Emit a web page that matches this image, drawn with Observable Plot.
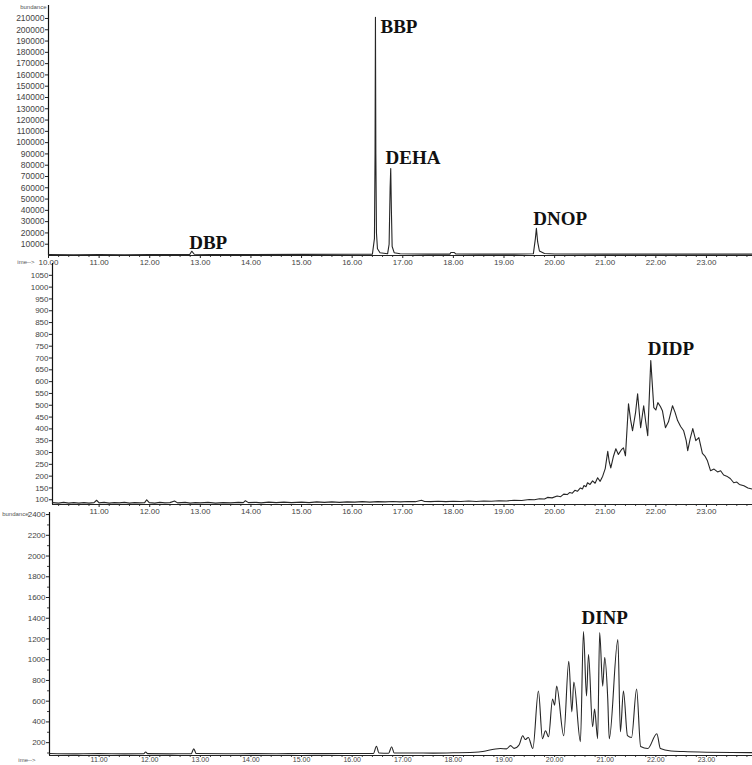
<!DOCTYPE html>
<html><head><meta charset="utf-8">
<script src="https://cdn.jsdelivr.net/npm/d3@7"></script>
<script src="https://cdn.jsdelivr.net/npm/@observablehq/plot@0.6"></script>
<style>
body{margin:0;background:#fff;}
#chart{position:relative;width:752px;height:765px;overflow:hidden;background:#fff;}
#chart svg{position:absolute;left:0;background:transparent;overflow:visible;}
</style></head><body><div id="chart"></div>
<script>
// ---- data: [retention time (min), abundance] ----
const ticTrace = [
  [10.0,800],[10.5,700],[11.0,800],[11.5,700],[12.0,800],[12.5,900],[12.79,900],[12.83,3800],[12.88,1100],
  [13.2,900],[14.0,900],[15.0,1000],[16.0,1100],[16.40,1200],[16.44,15000],[16.452,90000],[16.46,211000],
  [16.468,90000],[16.48,20000],[16.50,6000],[16.55,2500],[16.70,1500],[16.73,10000],[16.75,60000],
  [16.762,77000],[16.775,40000],[16.79,8000],[16.83,2500],[16.95,1500],[17.5,1200],[17.93,1200],[17.95,2600],
  [18.02,2600],[18.05,1300],[18.5,1200],[19.2,1200],[19.58,1500],[19.62,15000],[19.64,24000],[19.665,12000],
  [19.70,4000],[19.8,1800],[20.0,1300],[21.0,1200],[22.0,1200],[23.0,1200],[23.91,1200]
];
const didpTrace = [
  [10.08,88],[10.2,86],[10.3,89],[10.4,86],[10.5,88],[10.6,86],[10.7,88],[10.8,86],[10.9,88],[10.95,98],
  [11.0,87],[11.1,89],[11.2,86],[11.3,88],[11.4,87],[11.5,89],[11.6,86],[11.7,88],[11.8,87],[11.9,88],
  [11.94,100],[11.99,88],[12.1,86],[12.2,89],[12.3,87],[12.4,88],[12.49,95],[12.55,87],[12.7,89],
  [12.8,86],[12.9,88],[13.0,87],[13.15,89],[13.3,86],[13.45,88],[13.6,87],[13.75,89],[13.85,88],
  [13.89,96],[13.95,88],[14.1,89],[14.2,87],[14.35,90],[14.5,88],[14.65,90],[14.8,88],[15.0,90],
  [15.15,88],[15.3,91],[15.45,89],[15.6,91],[15.75,89],[15.9,91],[16.05,90],[16.2,92],[16.35,90],
  [16.5,92],[16.65,91],[16.8,93],[16.95,91],[17.1,93],[17.25,92],[17.37,98],[17.43,93],[17.55,92],
  [17.7,94],[17.85,92],[18.0,94],[18.15,93],[18.3,95],[18.45,93],[18.6,95],[18.75,94],[18.9,96],
  [19.05,95],[19.2,98],[19.35,97],[19.5,101],[19.6,100],[19.7,104],[19.8,103],[19.86,110],[19.95,108],
  [20.05,116],[20.12,113],[20.18,124],[20.25,122],[20.3,131],[20.35,128],[20.4,140],[20.45,136],
  [20.51,150],[20.55,146],[20.58,160],[20.62,155],[20.65,172],[20.70,165],[20.75,180],[20.80,170],
  [20.85,193],[20.90,178],[20.95,200],[21.0,232],[21.05,305],[21.08,260],[21.11,235],[21.16,282],
  [21.21,316],[21.26,292],[21.32,312],[21.36,320],[21.40,286],[21.46,506],[21.50,440],[21.54,392],
  [21.60,470],[21.64,549],[21.70,405],[21.76,498],[21.80,430],[21.84,371],[21.90,689],[21.96,490],
  [22.0,480],[22.04,511],[22.09,495],[22.13,477],[22.16,440],[22.19,405],[22.25,430],[22.33,498],
  [22.38,470],[22.43,435],[22.49,410],[22.55,392],[22.60,350],[22.63,308],[22.68,360],[22.73,401],
  [22.79,350],[22.85,363],[22.92,296],[22.97,285],[23.02,265],[23.08,223],[23.15,230],[23.22,218],
  [23.28,223],[23.34,205],[23.4,200],[23.47,190],[23.54,172],[23.6,175],[23.65,165],[23.74,159],
  [23.82,150],[23.91,145]
];
const dinpTrace = [
  [10.02,95],[10.5,92],[11.0,94],[11.5,92],[11.88,93],[11.92,110],[11.96,94],[12.4,92],[12.82,93],
  [12.87,140],[12.92,95],[13.5,93],[14.0,94],[14.5,93],[15.0,95],[15.5,94],[16.0,95],[16.42,96],
  [16.48,165],[16.53,100],[16.72,98],[16.78,160],[16.83,100],[17.2,100],[17.6,99],[18.0,102],[18.5,110],
  [18.93,143],[19.05,140],[19.13,171],[19.2,145],[19.3,180],[19.37,267],[19.42,230],[19.48,250],
  [19.57,143],[19.68,698],[19.76,238],[19.82,315],[19.88,257],[19.96,621],[20.0,560],[20.04,745],
  [20.18,267],[20.28,985],[20.34,497],[20.38,784],[20.51,210],[20.57,1272],[20.63,650],[20.67,1050],
  [20.75,353],[20.79,525],[20.85,238],[20.89,1262],[20.95,745],[20.99,1023],[21.05,621],[21.08,238],
  [21.25,1195],[21.30,305],[21.36,698],[21.44,267],[21.52,250],[21.62,717],[21.70,162],[21.84,143],
  [22.02,286],[22.09,143],[22.3,120],[22.55,114],[23.0,108],[23.5,105],[23.91,104]
];
const ticLabels = [
  {name:"BBP", t:16.56, v:197000},
  {name:"DEHA", t:16.66, v:81000},
  {name:"DBP", t:12.78, v:6000},
  {name:"DNOP", t:19.58, v:27000}
];
const didpLabels = [{name:"DIDP", t:21.84, v:712}];
const dinpLabels = [{name:"DINP", t:20.53, v:1345}];
const timeTicks = [10,11,12,13,14,15,16,17,18,19,20,21,22,23];
const ticTicks = d3.range(10000, 210001, 10000);
const didpTicks = d3.range(100, 1051, 50);
const dinpTicks = [200,400,600,800,1000,1200,1400,1600,1800,2000,2200,2400];

const X0 = 10, PX = 50.6, XEND = 23.91;
const minorTimes = d3.range(0, 70).map(i => 10 + i * 0.2).filter(t => Math.abs(t - Math.round(t)) > 0.01);

function panel({trace, labels, top, height, ml, mt, mb, yDomain, yTicks, yMinor, header, footer, curve, fs, xfs, xpad, xsize, hdx, fdy}) {
  const x0 = X0 + (ml - 48) / PX;
  const plot = Plot.plot({
    width: 752, height, marginLeft: ml, marginRight: 0, marginTop: mt, marginBottom: mb,
    style: {fontFamily: "Liberation Sans, Arial, sans-serif", fontSize: fs + "px", color: "#333", background: "transparent"},
    x: {domain: [x0, XEND]},
    y: {domain: yDomain},
    marks: [
      Plot.axisX({ticks: minorTimes.filter(t => t >= x0), tickSize: 2, tickFormat: () => "", label: null, stroke: "#444"}),
      Plot.axisX({ticks: timeTicks.filter(t => t >= x0), tickSize: xsize, tickPadding: xpad, fontSize: xfs, tickFormat: d => d.toFixed(2), label: null, stroke: "#222", fill: "#444"}),
      Plot.axisY({ticks: yMinor, tickSize: 2, tickFormat: () => "", label: null, stroke: "#444"}),
      Plot.axisY({ticks: yTicks, tickSize: 3, tickPadding: 1, tickFormat: d => String(d), label: null, stroke: "#222", fill: "#444"}),
      Plot.ruleX([x0], {stroke: "#111", strokeWidth: 1.2}),
      Plot.ruleY([yDomain[0]], {stroke: "#222"}),
      Plot.line(trace, {x: d => d[0], y: d => d[1], stroke: "#262626", strokeWidth: 1.1, curve}),
      Plot.text(labels, {x: "t", y: "v", text: "name", textAnchor: "start", lineAnchor: "bottom",
        fontFamily: "Liberation Serif, Times New Roman, serif", fontWeight: "bold", fontSize: 19, fill: "#111"}),
      Plot.text(header, {frameAnchor: "top-left", textAnchor: "end", lineAnchor: "middle", dx: hdx, dy: 2, fontSize: 6, fill: "#555"}),
      Plot.text(footer, {frameAnchor: "bottom-left", textAnchor: "end", lineAnchor: "middle", dx: -14, dy: fdy, fontSize: 6, fill: "#555"})
    ]
  });
  plot.style.top = top + "px";
  document.getElementById("chart").appendChild(plot);
}

panel({trace: ticTrace, labels: ticLabels, top: 0, height: 268, ml: 48, mt: 5, mb: 13, fs: 8.5, xfs: 8, xpad: 1, xsize: 3, hdx: -2, fdy: 7,
  yDomain: [0, 221500], yTicks: ticTicks, yMinor: [], header: ["bundance"], footer: ["ime-->"], curve: "linear"});
panel({trace: didpTrace, labels: didpLabels, top: 262, height: 252, ml: 52, mt: 1, mb: 10, fs: 8, xfs: 8, xpad: 1, xsize: 3, hdx: -2, fdy: 7,
  yDomain: [80, 1100], yTicks: didpTicks, yMinor: [], header: [], footer: [], curve: "linear"});
panel({trace: dinpTrace, labels: dinpLabels, top: 512, height: 253, ml: 49, mt: 0, mb: 10, fs: 8, xfs: 7, xpad: 0, xsize: 2, hdx: -21, fdy: 5,
  yDomain: [76, 2420], yTicks: dinpTicks, yMinor: d3.range(100, 2400, 100).filter(v => v % 200), header: ["bundance"], footer: ["ime-->"], curve: "monotone-x"});
</script></body></html>
